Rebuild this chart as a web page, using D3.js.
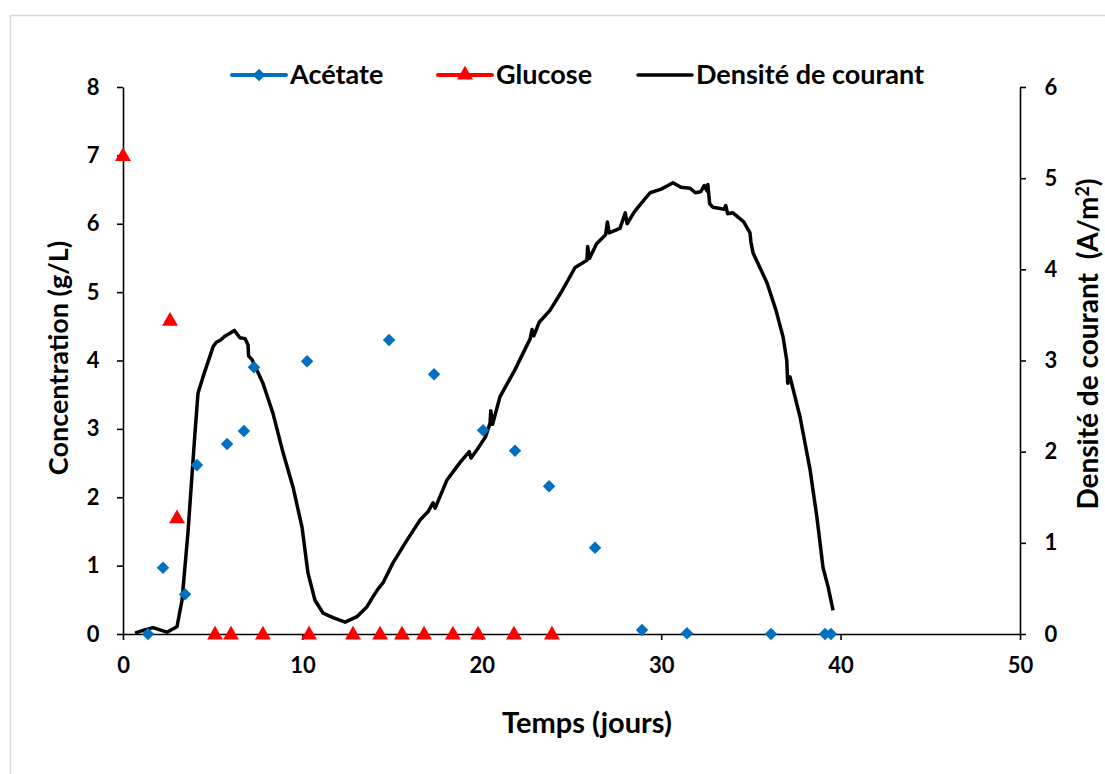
<!DOCTYPE html>
<html><head><meta charset="utf-8">
<script src="https://cdn.jsdelivr.net/npm/d3@7"></script>
<style>body{margin:0;background:#fff}svg{display:block}text{font-family:Lato,"Open Sans",sans-serif;font-weight:bold}</style>
</head><body>
<svg id="c" width="1105" height="774"></svg>
<script>
// Acétate (g/L)
const acetateT = [1.39,2.23,3.46,4.12,5.80,6.74,7.30,10.26,14.83,17.34,20.07,21.85,23.75,26.31,28.93,31.44,36.12,39.13,39.46];
const acetateC = [0.0,0.97,0.58,2.47,2.78,2.97,3.90,3.99,4.30,3.80,2.98,2.68,2.16,1.26,0.06,0.01,0.0,0.0,0.0];
// Glucose (g/L)
const glucoseT = [0,2.62,3.01,5.13,6.02,7.80,10.37,12.82,14.33,15.55,16.78,18.39,19.79,21.79,23.91];
const glucoseC = [7.0,4.59,1.70,0,0,0,0,0,0,0,0,0,0,0,0];
// Densité de courant (A/m²)
const currentT = [0.67,1.11,1.67,2.45,3.01,3.29,3.62,4.01,4.18,4.46,5.02,5.2,5.41,5.7,5.96,6.2,6.52,6.8,6.97,7.0,7.19,7.80,8.36,8.92,9.48,9.98,10.31,10.70,11.15,11.71,12.38,13.04,13.60,13.94,14.2,14.49,15.05,15.83,16.56,17.0,17.28,17.4,18.06,18.78,19.3,19.4,19.73,20.2,20.46,20.5,20.6,21.01,21.85,22.7,22.8,22.9,23.2,23.80,24.4,25.2,25.86,25.9,26.0,26.4,26.9,27.0,27.1,27.70,28.0,28.1,28.5,29.0,29.38,30.0,30.66,31.1,31.6,31.9,32.2,32.4,32.55,32.6,32.7,32.89,33.5,33.6,33.7,34.00,34.6,34.95,35.0,35.12,35.90,36.4,36.79,37.0,37.05,37.18,37.74,38.30,38.68,39.02,39.30,39.58];
const currentD = [0.01,0.04,0.07,0.02,0.08,0.37,1.11,2.20,2.64,2.82,3.15,3.20,3.22,3.27,3.30,3.33,3.25,3.24,3.17,3.05,3.01,2.75,2.42,1.99,1.61,1.17,0.67,0.37,0.23,0.18,0.13,0.19,0.30,0.41,0.49,0.56,0.78,1.03,1.25,1.34,1.44,1.38,1.69,1.88,2.00,1.93,2.02,2.16,2.31,2.45,2.30,2.60,2.90,3.24,3.34,3.27,3.42,3.55,3.74,4.02,4.10,4.25,4.12,4.28,4.38,4.52,4.40,4.45,4.62,4.50,4.63,4.75,4.84,4.88,4.95,4.90,4.89,4.84,4.85,4.92,4.86,4.93,4.72,4.68,4.66,4.70,4.61,4.62,4.52,4.40,4.30,4.18,3.85,3.55,3.26,3.00,2.75,2.82,2.38,1.80,1.28,0.73,0.52,0.26];
const xTicks = [0,10,20,30,40,50];
const yLeftTicks = [0,1,2,3,4,5,6,7,8];
const yRightTicks = [0,1,2,3,4,5,6];

const svg = d3.select("#c");
// outer chart border
svg.append("rect").attr("x",10.5).attr("y",15.5).attr("width",1200).attr("height",900)
  .attr("fill","none").attr("stroke","#d9d9d9").attr("stroke-width",1.5);

const x = d3.scaleLinear().domain([0,50]).range([123,1020]);
const yL = d3.scaleLinear().domain([0,8]).range([634,87]);
const yR = d3.scaleLinear().domain([0,6]).range([634,87]);

const fs = 22;
const fmt = d3.format("d");
const gx = svg.append("g").attr("transform","translate(0,634)")
  .call(d3.axisBottom(x).tickValues(xTicks).tickFormat(fmt).tickSize(6).tickSizeOuter(0).tickPadding(17));
const gl = svg.append("g").attr("transform","translate(123,0)")
  .call(d3.axisLeft(yL).tickValues(yLeftTicks).tickFormat(fmt).tickSize(6).tickSizeOuter(0).tickPadding(20));
const gr = svg.append("g").attr("transform","translate(1020,0)")
  .call(d3.axisRight(yR).tickValues(yRightTicks).tickFormat(fmt).tickSize(6).tickSizeOuter(0).tickPadding(20));
[gx,gl,gr].forEach(g=>{
  g.selectAll("path.domain").attr("stroke","#000").attr("stroke-width",1.6);
  g.selectAll(".tick line").attr("stroke","#000").attr("stroke-width",1.6);
  g.selectAll(".tick text").attr("font-family","Lato, sans-serif").attr("font-weight","bold").attr("font-size",fs).attr("fill","#000");
});
gl.selectAll(".tick text").attr("text-anchor","middle").attr("dx","-4");
gr.selectAll(".tick text").attr("text-anchor","middle").attr("dx","5");

// current density line
svg.append("path")
  .datum(currentT.map((t,i)=>[t,currentD[i]]))
  .attr("fill","none").attr("stroke","#000").attr("stroke-width",3.5).attr("stroke-linejoin","round")
  .attr("d", d3.line().x(d=>x(d[0])).y(d=>yR(d[1])));

const diamond = d3.symbol().type(d3.symbolDiamond2).size(100);
const tri = d3.symbol().type(d3.symbolTriangle).size(110);

svg.append("g").selectAll("path").data(acetateT.map((t,i)=>[t,acetateC[i]])).join("path")
  .attr("d", diamond).attr("fill","#0070C0")
  .attr("transform", d=>`translate(${x(d[0])},${yL(d[1])})`);

svg.append("g").selectAll("path").data(glucoseT.map((t,i)=>[t,glucoseC[i]])).join("path")
  .attr("d", tri).attr("fill","#FF0000")
  .attr("transform", d=>`translate(${x(d[0])},${yL(d[1])+1})`);

// legend
const legend = [
  {name:"Acétate", color:"#0070C0", sym:diamond, x0:232},
  {name:"Glucose", color:"#FF0000", sym:tri, x0:438},
  {name:"Densité de courant", color:"#000", sym:null, x0:638}
];
const lg = svg.append("g");
legend.forEach(l=>{
  lg.append("line").attr("x1",l.x0).attr("x2",l.x0+54).attr("y1",75).attr("y2",75)
    .attr("stroke",l.color).attr("stroke-width",l.sym?4:3.5).attr("stroke-linecap","round");
  if(l.sym) lg.append("path").attr("d",l.sym).attr("fill",l.color).attr("transform",`translate(${l.x0+27},75)`);
  lg.append("text").attr("x",l.x0+58).attr("y",84).attr("font-size",27).attr("fill","#000").text(l.name);
});

// axis titles
svg.append("text").attr("x",587).attr("y",733).attr("text-anchor","middle").attr("font-size",29).text("Temps (jours)");
svg.append("text").attr("transform","translate(68,358) rotate(-90)").attr("text-anchor","middle").attr("font-size",27).text("Concentration (g/L)");
const rt = svg.append("text").attr("transform","translate(1098,344) rotate(-90)").attr("text-anchor","middle").attr("font-size",28).attr("xml:space","preserve");
rt.append("tspan").text("Densité de courant\u00a0 (A/m");
rt.append("tspan").attr("dy",-9).attr("font-size",18).text("2");
rt.append("tspan").attr("dy",9).text(")");
</script>
</body></html>
